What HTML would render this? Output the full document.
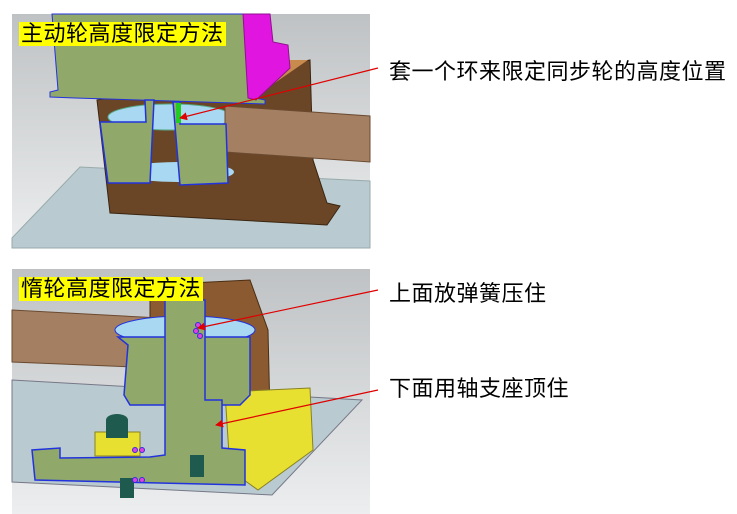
<!DOCTYPE html>
<html><head><meta charset="utf-8"><style>
html,body{margin:0;padding:0;background:#fff;}
body{width:737px;height:514px;position:relative;overflow:hidden;font-family:"Liberation Sans","Noto Sans CJK SC",sans-serif;}
.lbl{position:absolute;font-size:22px;color:#000;white-space:nowrap;line-height:1;letter-spacing:0.5px;}
.ybox{position:absolute;background:#ffff00;font-size:22px;line-height:24px;padding:0 2px;letter-spacing:0.5px;}
</style></head><body>
<svg width="737" height="514" style="position:absolute;left:0;top:0">
<defs>
<linearGradient id="bg" x1="0" y1="0" x2="0" y2="1"><stop offset="0" stop-color="#bfc2c4"/><stop offset="1" stop-color="#eceeef"/></linearGradient>
<marker id="ar" markerWidth="8" markerHeight="8" refX="7" refY="4" orient="auto" markerUnits="userSpaceOnUse"><path d="M0,0 L8,4 L0,8z" fill="#e00000"/></marker>
</defs>
<!-- panel 1 -->
<rect x="12" y="14" width="358" height="234" fill="url(#bg)"/>
<polygon points="12,238 80,167 370,181 370,248 12,248" fill="#b9cbd1" stroke="#9aa" stroke-width="1"/>
<polygon points="97,100 300,62 310,60 313,160 327,203 340,206 327,225 110,213" fill="#6b4626" stroke="#3a2510"/>
<polygon points="290,60 308,60 250,100 240,100" fill="#c98a4e"/>
<ellipse cx="170" cy="117" rx="62" ry="13" fill="#a9d9f2" stroke="#5a8"/>
<ellipse cx="178" cy="172" rx="56" ry="10" fill="#a9d9f2"/>
<polygon points="225,106 370,116 370,162 225,152" fill="#a47f62" stroke="#6b4a30"/>
<polygon points="52,14 250,14 255,98 265,100 265,104 75,98 50,97 50,92 58,90" fill="#90a86a" stroke="#2233dd"/>
<polygon points="243,14 270,14 273,42 288,45 290,68 256,100 248,98" fill="#e016e0" stroke="#901090"/>
<polygon points="100,122 146,122 145,100 154,100 150,183 108,183" fill="#90a86a" stroke="#2233dd" stroke-width="1.5"/>
<polygon points="173,102 180,102 180,124 226,124 228,183 180,185" fill="#90a86a" stroke="#2233dd" stroke-width="1.5"/>
<rect x="176" y="103" width="5" height="20" fill="#22cc22"/>
<line x1="378" y1="68" x2="180" y2="118" stroke="#e00000" stroke-width="1.2" marker-end="url(#ar)"/>
<!-- panel 2 -->
<rect x="12" y="269" width="358" height="245" fill="url(#bg)"/>
<polygon points="12,380 362,400 272,495 12,482" fill="#b9cbd1" stroke="#778" stroke-width="1"/>
<polygon points="12,310 160,318 160,368 12,362" fill="#a47f62" stroke="#6b4a30"/>
<polygon points="150,285 250,280 268,330 270,415 232,418 230,330 150,330" fill="#8b5a30" stroke="#4a2e15"/>
<polygon points="225,392 310,388 313,450 258,490 230,470" fill="#e8e030" stroke="#888020"/>
<ellipse cx="185" cy="330" rx="70" ry="14" fill="#a9d9f2" stroke="#2233dd"/>
<polygon points="118,337 250,337 250,395 240,405 130,405 124,395 128,345" fill="#90a86a" stroke="#2233dd" stroke-width="1.5"/>
<polygon points="165,300 205,300 205,400 222,400 222,448 245,450 245,485 35,480 32,450 60,448 60,458 150,457 165,455" fill="#90a86a" stroke="#2233dd" stroke-width="1.5"/>
<rect x="95" y="432" width="45" height="24" fill="#e8e030" stroke="#888020"/>
<ellipse cx="117" cy="420" rx="11" ry="6" fill="#1e5a4e"/>
<rect x="106" y="420" width="22" height="18" fill="#1e5a4e"/>
<rect x="120" y="478" width="14" height="20" fill="#1e5a4e"/>
<rect x="190" y="455" width="14" height="22" fill="#1e5a4e"/>
<g fill="#e040e0" stroke="#3030e0">
<circle cx="198" cy="325" r="2.5"/><circle cx="196" cy="331" r="2.5"/><circle cx="200" cy="336" r="2.5"/>
<circle cx="135" cy="450" r="2.5"/><circle cx="142" cy="450" r="2.5"/><circle cx="135" cy="480" r="2.5"/><circle cx="142" cy="480" r="2.5"/>
</g>
<line x1="378" y1="290" x2="198" y2="328" stroke="#e00000" stroke-width="1.2" marker-end="url(#ar)"/>
<line x1="378" y1="390" x2="216" y2="425" stroke="#e00000" stroke-width="1.2" marker-end="url(#ar)"/>
</svg>
<div class="ybox" style="left:19px;top:22px;">主动轮高度限定方法</div>
<div class="ybox" style="left:19px;top:277px;">惰轮高度限定方法</div>
<div class="lbl" style="left:389px;top:61px;">套一个环来限定同步轮的高度位置</div>
<div class="lbl" style="left:389px;top:283px;">上面放弹簧压住</div>
<div class="lbl" style="left:389px;top:378px;">下面用轴支座顶住</div>
</body></html>
